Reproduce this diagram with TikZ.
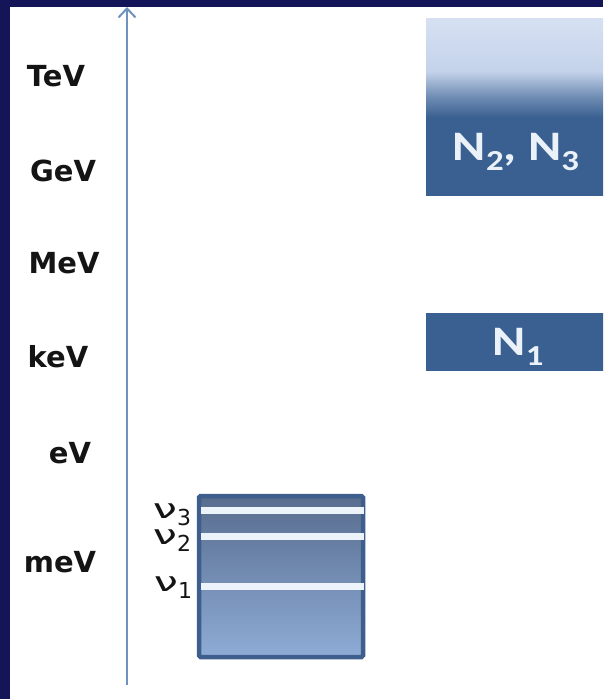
\documentclass[tikz,border=0pt]{standalone}
\usepackage{fontspec}
\setmainfont{DejaVu Sans}
\newfontfamily\calfont{Carlito}
\usetikzlibrary{arrows.meta}

\definecolor{navybg}{RGB}{20,20,88}
\definecolor{axisblue}{RGB}{112,146,192}
\definecolor{darkbox}{RGB}{58,96,145}
\definecolor{palebox}{RGB}{196,211,234}
\definecolor{toppale}{RGB}{214,224,242}
\definecolor{nutop}{RGB}{88,108,142}
\definecolor{nubottom}{RGB}{142,172,214}
\definecolor{nuedge}{RGB}{62,95,142}
\definecolor{levelbar}{RGB}{236,243,250}
\definecolor{boxtext}{RGB}{234,241,248}

\pgfdeclareverticalshading{heavyshade}{100bp}{color(0bp)=(darkbox); color(47bp)=(darkbox); color(53bp)=(darkbox!60!palebox); color(60bp)=(palebox); color(75bp)=(toppale); color(100bp)=(toppale)}

% lowered index: size, drop, text
\newcommand{\lowidx}[3]{\raisebox{-#2}{\fontsize{#1}{#1}\selectfont #3}}

\begin{document}
\begin{tikzpicture}[x=1pt, y=-1pt,
    energy/.style={font=\fontsize{29}{32}\selectfont\bfseries, text=black!92},
    masslbl/.style={font=\calfont\fontsize{42}{44}\selectfont\bfseries, text=boxtext, anchor=base},
    nulbl/.style={font=\fontsize{27}{28}\selectfont, text=black!92, anchor=base}]
                % frame
                \fill[navybg] (0,0) rectangle (603,699);
                \fill[white] (10,7) rectangle (603,699);
                \useasboundingbox (0,0) rectangle (603,699);
                \clip (0,0) rectangle (603,699);

                % energy scale
                \node[energy] (tev) at (56,76) {TeV};
                \node[energy] (gev) at (63,171) {GeV};
                \node[energy] (mev) at (64,263) {MeV};
                \node[energy] (kev) at (58,357) {keV};
                \node[energy] (ev) at (70,453) {eV};
                \node[energy] (millev) at (60,562) {meV};

                % axis
                \coordinate (axisfoot) at (127,685);
                \coordinate (axistop) at (127,7);
                \draw[axisblue, line width=1.6, -{Straight Barb[length=9pt,width=17pt,line width=2pt]}] (axisfoot) -- (axistop);

                % heavy states
                \node[shading=heavyshade, minimum width=178, minimum height=177, inner sep=0, anchor=north west] (heavy) at (426,18) {};
                \node[masslbl] (heavytxt) at (516,160) {\scalebox{1.2}[1]{N\lowidx{29}{10pt}{2}, N\lowidx{29}{10pt}{3}}};

                \node[fill=darkbox, minimum width=178, minimum height=58, inner sep=0, anchor=north west] (light) at (426,313) {};
                \node[masslbl] (lighttxt) at (518,355) {\scalebox{1.2}[1]{N\lowidx{29}{10pt}{1}}};

                % active neutrinos
                \node[draw=nuedge, line width=4.5, rounded corners=1.5, top color=nutop, bottom color=nubottom, minimum width=164, minimum height=161, inner sep=0] (nubox) at (281,576.5) {};
                \foreach \y in {510,536,586}
                    \fill[levelbar] (201,\y-3.5) rectangle (364,\y+3.5);
                \node[nulbl] (nuthree) at (172,518) {\scalebox{1.6}[1]{ν}\lowidx{22}{7pt}{3}};
                \node[nulbl] (nutwo) at (172,544) {\scalebox{1.6}[1]{ν}\lowidx{22}{7pt}{2}};
                \node[nulbl] (nuone) at (173,591) {\scalebox{1.6}[1]{ν}\lowidx{22}{7pt}{1}};
            \end{tikzpicture}
\end{document}
